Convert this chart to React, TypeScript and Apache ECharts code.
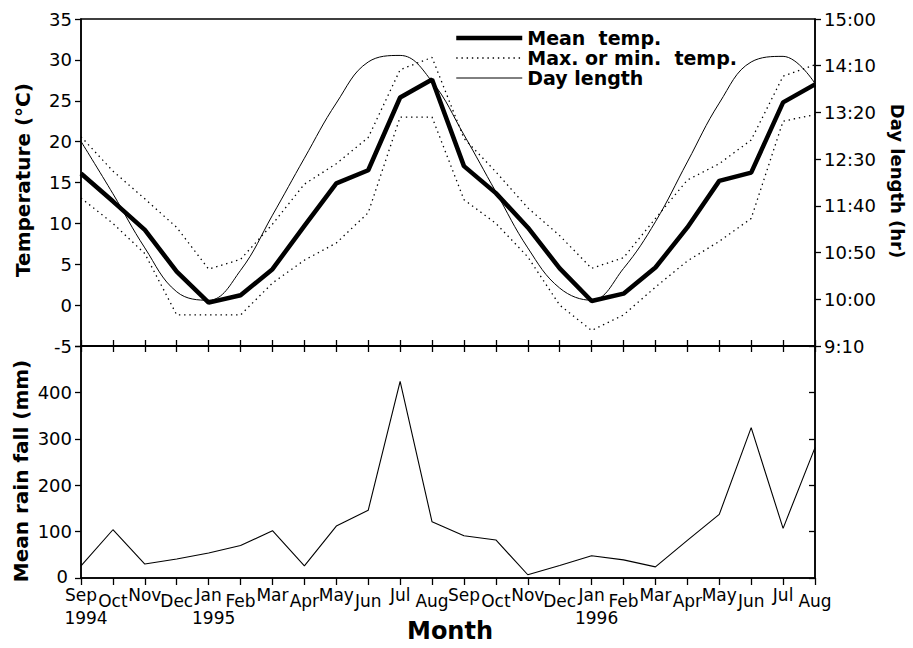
import React, { useEffect, useRef } from "react";
import * as echarts from "echarts";

const months = ["Sep","Oct","Nov","Dec","Jan","Feb","Mar","Apr","May","Jun","Jul","Aug",
  "Sep","Oct","Nov","Dec","Jan","Feb","Mar","Apr","May","Jun","Jul","Aug"];
const years = ["1994","","","","1995","","","","","","","","","","","","1996","","","","","","",""];

const meanTemp = [16.1, 12.7, 9.2, 4.1, 0.3, 1.2, 4.4, 9.7, 14.9, 16.5, 25.4, 27.6,
  17.0, 13.7, 9.5, 4.5, 0.5, 1.4, 4.6, 9.5, 15.2, 16.2, 24.8, 27.0];
const maxTemp = [20.6, 16.4, 13.0, 9.5, 4.4, 5.6, 9.9, 14.8, 17.3, 20.5, 28.8, 30.3,
  20.4, 16.3, 11.9, 8.5, 4.5, 5.8, 10.6, 15.3, 17.3, 20.2, 28.0, 29.4];
const minTemp = [13.1, 10.0, 6.3, -1.2, -1.2, -1.2, 2.7, 5.5, 7.6, 11.3, 23.0, 23.0,
  12.9, 10.0, 5.9, 0.0, -3.1, -1.2, 2.2, 5.4, 7.8, 10.6, 22.5, 23.3];
// day length in minutes
const dayLength = [769, 713, 655, 608, 599, 631, 690, 751, 810, 854, 861, 833,
  776, 715, 655, 612, 599, 633, 683, 747, 810, 854, 860, 831];
const rainfall = [26, 104, 30, 41, 54, 70, 102, 26, 112, 146, 424, 121,
  91, 82, 7, 27, 48, 39, 24, 81, 137, 324, 107, 281];

const FONT = "DejaVu Sans";

export default function App() {
  const ref = useRef<HTMLDivElement>(null);
  useEffect(() => {
    if (!ref.current) return;
    const chart = echarts.init(ref.current, null, { renderer: "svg" });
    const axisLine = { show: true, onZero: false, lineStyle: { color: "#000", width: 1.5 } };
    const tickStyle = { color: "#000", width: 1.3 };
    const labelStyle = { color: "#000", fontFamily: FONT, fontSize: 18, lineHeight: 14 };
    const dotted = { color: "#000", width: 1.3, type: [1.4, 3.8] };
    const option: any = {
      animation: false,
      backgroundColor: "#fff",
      grid: [
        { left: 81, right: 98, top: 19, height: 327, show: true, borderColor: "#000", borderWidth: 1.5, backgroundColor: "transparent" },
        { left: 81, right: 98, top: 346, height: 232, show: true, borderColor: "#000", borderWidth: 1.5, backgroundColor: "transparent" },
      ],
      legend: {
        orient: "vertical",
        left: 449,
        top: 23,
        itemWidth: 66,
        itemHeight: 14,
        itemGap: 0,
        itemStyle: { opacity: 0 },
        data: [
          { name: "Mean temp.", lineStyle: { color: "#000", width: 4.5 } },
          { name: "Max. or min. temp.", lineStyle: dotted },
          { name: "Day length", lineStyle: { color: "#000", width: 1 } },
        ],
        formatter: (n: string) => n.replace(" temp.", "  temp."),
        textStyle: { fontFamily: FONT, fontWeight: "bold", fontSize: 19, color: "#000", lineHeight: 20 },
      },
      xAxis: [
        {
          gridIndex: 0, type: "category", data: months, boundaryGap: false, position: "bottom",
          axisLine, axisTick: { show: true, inside: true, length: 6, interval: 0, lineStyle: tickStyle },
          axisLabel: { show: false }, splitLine: { show: false },
        },
        {
          gridIndex: 1, type: "category", data: months, boundaryGap: false, position: "top",
          axisLine, axisTick: { show: true, inside: true, length: 6, interval: 0, lineStyle: tickStyle },
          axisLabel: { show: false }, splitLine: { show: false },
        },
        {
          gridIndex: 1, type: "category", data: months, boundaryGap: false, position: "bottom",
          axisLine, axisTick: { show: true, inside: false, length: 7, interval: 0, lineStyle: tickStyle },
          splitLine: { show: false },
          axisLabel: {
            show: true, interval: 0, margin: 8, showMinLabel: true, showMaxLabel: true, hideOverlap: false,
            formatter: (v: string, i: number) => {
              const main = i % 2 === 0 ? `{hi|${v}}` : `{lo|${v}}`;
              return years[i] ? `${main}\n{yr|${years[i]}}` : main;
            },
            rich: {
              hi: { fontFamily: FONT, fontSize: 17, color: "#000", lineHeight: 18 },
              lo: { fontFamily: FONT, fontSize: 17, color: "#000", lineHeight: 18, padding: [12, 0, 0, 0] },
              yr: { fontFamily: FONT, fontSize: 17, color: "#000", lineHeight: 20, padding: [8, 0, 0, 10] },
            },
          },
        },
      ],
      yAxis: [
        {
          gridIndex: 0, type: "value", position: "left", min: -5, max: 35, interval: 5,
          axisLine, axisTick: { show: true, inside: false, length: 6, lineStyle: tickStyle },
          axisLabel: { ...labelStyle, margin: 9 }, splitLine: { show: false },
        },
        {
          gridIndex: 0, type: "value", position: "right", min: 550, max: 900, interval: 50,
          axisLine, axisTick: { show: true, inside: false, length: 6, lineStyle: tickStyle },
          axisLabel: {
            ...labelStyle, margin: 9,
            formatter: (v: number) => `${Math.floor(v / 60)}:${String(v % 60).padStart(2, "0")}`,
          },
          splitLine: { show: false },
        },
        {
          gridIndex: 1, type: "value", position: "left", min: 0, max: 500, interval: 100,
          axisLine, axisTick: { show: true, inside: false, length: 6, lineStyle: tickStyle },
          axisLabel: {
            ...labelStyle, margin: 9,
            formatter: (v: number) => (v >= 500 ? "" : v === 0 ? "{z|0}" : String(v)),
            rich: { z: { fontFamily: FONT, fontSize: 18, color: "#000", lineHeight: 14, padding: [0, 4, 4, 0] } },
          },
          splitLine: { show: false },
        },
        {
          gridIndex: 1, type: "value", position: "right", min: 0, max: 500, interval: 100,
          axisLine, axisTick: { show: true, inside: true, length: 6, lineStyle: tickStyle },
          axisLabel: { show: false }, splitLine: { show: false },
        },
      ],
      series: [
        {
          name: "Max. or min. temp.", type: "line", xAxisIndex: 0, yAxisIndex: 0, data: maxTemp,
          symbol: "none", itemStyle: { color: "#000" }, lineStyle: dotted, z: 2,
        },
        {
          name: "Max. or min. temp.", type: "line", xAxisIndex: 0, yAxisIndex: 0, data: minTemp,
          symbol: "none", itemStyle: { color: "#000" }, lineStyle: dotted, z: 2,
        },
        {
          name: "Day length", type: "line", xAxisIndex: 0, yAxisIndex: 1, data: dayLength,
          symbol: "none", smooth: 0.4, itemStyle: { color: "#000" }, lineStyle: { color: "#000", width: 1 }, z: 3,
        },
        {
          name: "Mean temp.", type: "line", xAxisIndex: 0, yAxisIndex: 0, data: meanTemp,
          symbol: "none", itemStyle: { color: "#000" }, lineStyle: { color: "#000", width: 4.5 }, z: 4,
        },
        {
          name: "Rainfall", type: "line", xAxisIndex: 2, yAxisIndex: 2, data: rainfall,
          symbol: "none", itemStyle: { color: "#000" }, lineStyle: { color: "#000", width: 1.1 }, z: 3,
        },
      ],
      graphic: [
        {
          type: "text", x: 23, y: 180, rotation: Math.PI / 2,
          style: { text: "Temperature (°C)", font: `bold 20px "${FONT}"`, fill: "#000", textAlign: "center", textVerticalAlign: "middle" },
        },
        {
          type: "text", x: 897, y: 181, rotation: -Math.PI / 2,
          style: { text: "Day length (hr)", font: `bold 18px "${FONT}"`, fill: "#000", textAlign: "center", textVerticalAlign: "middle" },
        },
        {
          type: "text", x: 21, y: 471, rotation: Math.PI / 2,
          style: { text: "Mean rain fall (mm)", font: `bold 20px "${FONT}"`, fill: "#000", textAlign: "center", textVerticalAlign: "middle" },
        },
        {
          type: "text", x: 450, y: 631,
          style: { text: "Month", font: `bold 24px "${FONT}"`, fill: "#000", textAlign: "center", textVerticalAlign: "middle" },
        },
      ],
    };
    chart.setOption(option);
    return () => chart.dispose();
  }, []);
  return (
    <div
      ref={ref}
      style={{ position: "fixed", left: 0, top: 0, width: 913, height: 648, background: "#fff" }}
    />
  );
}
